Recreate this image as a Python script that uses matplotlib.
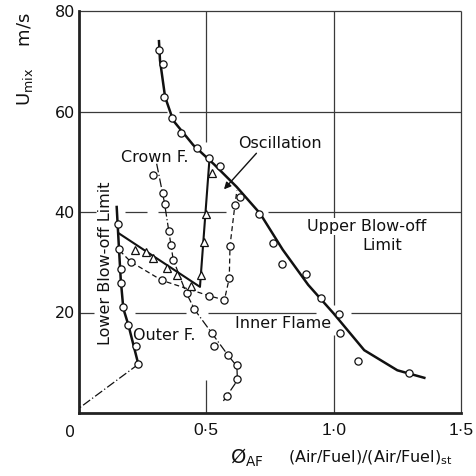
import matplotlib
matplotlib.use("Agg")
import matplotlib.pyplot as plt

plt.rcParams['font.family'] = ['DejaVu Sans']
plt.rcParams['mathtext.fontset'] = 'dejavusans'

# ---- data ----
upper_curve_x = [0.314, 0.318, 0.338, 0.370, 0.449, 0.530, 0.619, 0.711, 0.800, 0.900, 1.000, 1.120, 1.250, 1.356]
upper_curve_y = [74.0, 70.2, 62.9, 58.2, 53.3, 49.5, 45.0, 39.7, 32.5, 25.5, 19.8, 12.5, 8.5, 7.0]
upper_pts_x = [0.314, 0.331, 0.335, 0.365, 0.400, 0.465, 0.512, 0.553, 0.632, 0.708, 0.760, 0.796, 0.891, 0.950, 1.020, 1.025, 1.094, 1.297]
upper_pts_y = [72.2, 69.5, 62.8, 58.8, 55.8, 52.7, 50.8, 49.2, 43.0, 39.7, 33.9, 29.6, 27.6, 22.9, 19.7, 16.0, 10.3, 8.0]

crown_line_x = [0.305, 0.335, 0.370, 0.420, 0.455, 0.520, 0.585, 0.620, 0.622, 0.567]
crown_line_y = [49.6, 42.0, 30.5, 24.0, 20.5, 16.0, 11.5, 9.3, 6.5, 2.4]
crown_pts_x = [0.292, 0.331, 0.338, 0.353, 0.363, 0.370, 0.423, 0.453, 0.521, 0.531, 0.584, 0.619, 0.622, 0.580]
crown_pts_y = [47.3, 43.8, 41.5, 36.2, 33.4, 30.4, 23.9, 20.6, 16.0, 13.3, 11.5, 9.5, 6.7, 3.4]

osc_line_x = [0.160, 0.203, 0.325, 0.512, 0.571, 0.590, 0.593, 0.612, 0.620]
osc_line_y = [32.3, 30.1, 26.4, 23.3, 22.5, 26.8, 33.3, 41.3, 44.3]
osc_pts_x = [0.203, 0.325, 0.512, 0.571, 0.590, 0.593, 0.612]
osc_pts_y = [30.1, 26.4, 23.3, 22.5, 26.8, 33.3, 41.3]

tri_line_x = [0.158, 0.475, 0.512]
tri_line_y = [35.7, 25.1, 50.3]
tri_pts_x = [0.220, 0.263, 0.292, 0.346, 0.386, 0.440, 0.480, 0.490, 0.499, 0.521]
tri_pts_y = [32.5, 32.1, 30.8, 28.8, 27.5, 25.3, 27.4, 34.1, 39.7, 47.8]

lower_line_x = [0.148, 0.157, 0.164, 0.174, 0.194, 0.233]
lower_line_y = [41.0, 32.7, 26.5, 20.8, 17.5, 9.7]
lower_pts_x = [0.154, 0.157, 0.164, 0.164, 0.171, 0.194, 0.224, 0.233]
lower_pts_y = [37.6, 32.7, 28.6, 25.9, 21.0, 17.5, 13.3, 9.7]
lower_ext_x = [0.233, 0.004]
lower_ext_y = [9.7, 1.1]

xtick_vals = [0.5, 1.0, 1.5]
xtick_labels = ["0·5", "1·0", "1·5"]
ytick_vals = [20, 40, 60, 80]
ytick_labels = ["20", "40", "60", "80"]

# ---- figure ----
W, H = 477, 476
fig = plt.figure(figsize=(W / 100, H / 100), dpi=100)
ax = fig.add_axes([79 / W, 1 - 413 / H, (461 - 79) / W, (413 - 11) / H])
ax.set_xlim(0, 1.5)
ax.set_ylim(0, 80)

gc = '#3a3a3a'
glw = 0.9
# grid segments (broken where the original drawing leaves gaps)
hsegs = {
    20: [(0, 0.06), (0.22, 0.42), (0.505, 0.93), (1.07, 1.5)],
    40: [(0, 0.067), (0.18, 0.267), (0.31, 0.577), (0.742, 1.5)],
    60: [(0, 0.346), (0.393, 1.5)],
    80: [(0, 1.5)],
}
vsegs = {
    0.5: [(0, 6.6), (54, 80)],
    1.0: [(0, 15.5), (21.5, 80)],
    1.5: [(0, 80)],
}
for yv, segs in hsegs.items():
    for a, b in segs:
        ax.plot([a, b], [yv, yv], color=gc, lw=glw, zorder=1, solid_capstyle='butt', clip_on=False)
for xv, segs in vsegs.items():
    for a, b in segs:
        ax.plot([xv, xv], [a, b], color=gc, lw=glw, zorder=1, solid_capstyle='butt', clip_on=False)

for s in ['top', 'right']:
    ax.spines[s].set_visible(False)
for s in ['left', 'bottom']:
    ax.spines[s].set_linewidth(2.0)
    ax.spines[s].set_color('#222')

ax.set_xticks(xtick_vals)
ax.set_xticklabels(xtick_labels, family='Liberation Sans', fontsize=12.5)
ax.set_yticks(ytick_vals)
ax.set_yticklabels(ytick_labels)
ax.tick_params(axis='y', length=0, labelsize=11.5, colors='#111', pad=3)
ax.tick_params(axis='x', length=0, colors='#111', pad=7)
ax.text(-0.035, -3.9, "0", fontsize=11.5, ha='center', va='center', color='#111')

k = '#111'
mk = dict(mfc='white', mec=k, mew=0.9, ms=5.2, zorder=5)

# Upper blow-off limit
ax.plot(upper_curve_x, upper_curve_y, color=k, lw=1.8, zorder=3)
ax.plot(upper_pts_x, upper_pts_y, 'o', ls='none', **mk)

# Crown flame boundary
ax.plot(crown_line_x, crown_line_y, color=k, lw=0.9, ls=(0, (7, 2, 1, 2)), zorder=3)
ax.plot(crown_pts_x, crown_pts_y, 'o', ls='none', **mk)

# Oscillation (dashed)
ax.plot(osc_line_x, osc_line_y, color=k, lw=0.9, ls=(0, (4, 2.5)), zorder=3)
ax.plot(osc_pts_x, osc_pts_y, 'o', ls='none', **mk)

# Triangle boundary
ax.plot(tri_line_x, tri_line_y, color=k, lw=1.5, zorder=3)
ax.plot(tri_pts_x, tri_pts_y, '^', ls='none', mfc='white', mec=k, mew=0.9, ms=5.5, zorder=5)

# Lower blow-off limit
ax.plot(lower_line_x, lower_line_y, color=k, lw=1.8, zorder=3)
ax.plot(lower_ext_x, lower_ext_y, color=k, lw=0.9, ls=(0, (7, 2, 1, 2)), zorder=3)
ax.plot(lower_pts_x, lower_pts_y, 'o', ls='none', **mk)

# annotations
fs = 11.5
ax.text(0.298, 49.9, "Crown F.", fontsize=fs, ha='center', va='baseline', color=k)
ax.text(0.789, 52.7, "Oscillation", fontsize=fs, ha='center', va='baseline', color=k)
ax.annotate('', xy=(0.562, 44.1), xytext=(0.704, 52.1),
            arrowprops=dict(arrowstyle='-|>', lw=1.0, color=k, mutation_scale=10))
ax.text(1.129, 36.2, "Upper Blow-off", fontsize=fs, ha='center', va='baseline', color=k,
        bbox=dict(boxstyle='square,pad=0.05', fc='white', ec='none'), zorder=4)
ax.text(1.114, 32.4, "Limit", fontsize=fs, ha='left', va='baseline', color=k)
ax.text(0.802, 16.9, "Inner Flame", fontsize=fs, ha='center', va='baseline', color=k)
ax.text(0.334, 14.5, "Outer F.", fontsize=fs, ha='center', va='baseline', color=k)
ax.text(0.106, 29.9, "Lower Blow-off Limit", fontsize=fs, rotation=90,
        ha='center', va='center', color=k,
        bbox=dict(boxstyle='square,pad=0.1', fc='white', ec='none'), zorder=4)

# axis labels
fig.text(25 / W, 1 - 12 / H, r"U$_{\mathrm{mix}}$    m/s", fontsize=13, rotation=90,
         ha='center', va='top', color=k)
fig.text(247 / W, 1 - 458 / H, r"Ø$_{\mathrm{AF}}$", fontsize=14, ha='center', va='center', color=k)
fig.text(288 / W, 1 - 458 / H, r"(Air/Fuel)/(Air/Fuel)$_{\mathrm{st}}$", fontsize=11.5,
         ha='left', va='center', color=k)

fig.savefig("out.png", dpi=100)
